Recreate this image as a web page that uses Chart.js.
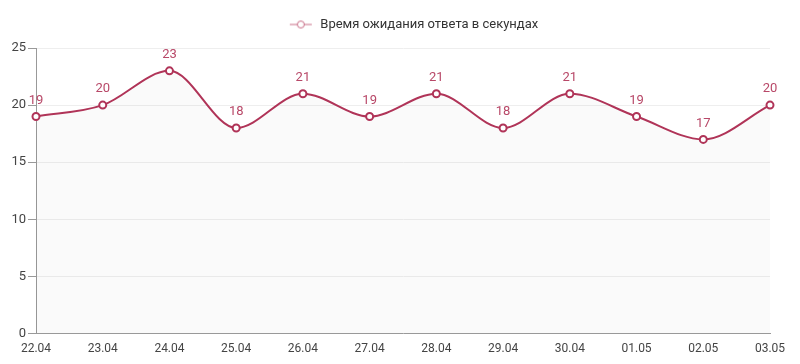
<!DOCTYPE html>
<html>
<head>
<meta charset="utf-8">
<script src="https://cdn.jsdelivr.net/npm/chart.js@4/dist/chart.umd.min.js"></script>
<style>
  html, body { margin: 0; padding: 0; background: #fff; }
  #wrap { width: 800px; height: 364px; }
</style>
</head>
<body>
<div id="wrap"><canvas id="chart"></canvas></div>
<script>
const labels = ['22.04', '23.04', '24.04', '25.04', '26.04', '27.04', '28.04', '29.04', '30.04', '01.05', '02.05', '03.05'];
const waitTimes = [19, 20, 23, 18, 21, 19, 21, 18, 21, 19, 17, 20];
const seriesName = 'Время ожидания ответа в секундах';
const yTicks = [0, 5, 10, 15, 20, 25];

const lineColor = 'rgb(176, 52, 88)';
const labelColor = 'rgb(184, 72, 104)';

// legend marker: short line with a hollow circle, sitting at the right of a wide box
const marker = document.createElement('canvas');
marker.width = 82; marker.height = 10;
(function () {
  const c = marker.getContext('2d');
  c.strokeStyle = 'rgb(200, 110, 135)';
  c.lineWidth = 1;
  c.beginPath(); c.moveTo(58, 5); c.lineTo(80, 5); c.stroke();
  c.fillStyle = '#fff';
  c.beginPath(); c.arc(69, 5, 3.5, 0, Math.PI * 2); c.fill(); c.stroke();
})();

// value labels above each point
const valueLabels = {
  id: 'valueLabels',
  afterDatasetsDraw(chart) {
    const ctx = chart.ctx;
    const meta = chart.getDatasetMeta(0);
    ctx.save();
    ctx.font = '13px Roboto';
    ctx.fillStyle = labelColor;
    ctx.textAlign = 'center';
    ctx.textBaseline = 'middle';
    meta.data.forEach((pt, i) => {
      ctx.fillText(chart.data.datasets[0].data[i], pt.x, pt.y - 16);
    });
    ctx.restore();
  }
};

// extra gap under the legend
const legendGap = {
  id: 'legendGap',
  beforeLayout(chart) {
    const lg = chart.legend;
    if (lg && !lg._gapped) {
      const fit = lg.fit;
      lg.fit = function () { fit.call(this); this.height += 7; };
      lg._gapped = true;
    }
  }
};

new Chart(document.getElementById('chart'), {
  type: 'line',
  data: {
    labels: labels,
    datasets: [{
      label: seriesName,
      data: waitTimes,
      borderColor: lineColor,
      borderWidth: 2,
      backgroundColor: 'rgba(0, 0, 0, 0.018)',
      fill: 'origin',
      cubicInterpolationMode: 'monotone',
      pointRadius: 3.5,
      pointBorderWidth: 2,
      pointBackgroundColor: '#fff',
      pointBorderColor: lineColor
    }]
  },
  options: {
    responsive: true,
    maintainAspectRatio: false,
    animation: false,
    layout: { padding: { left: 0, right: 30, top: 6, bottom: 6 } },
    plugins: {
      tooltip: { enabled: false },
      legend: {
        position: 'top',
        labels: {
          usePointStyle: true,
          pointStyleWidth: 82,
          color: '#333',
          font: { family: 'Roboto', size: 13 },
          padding: 12,
          generateLabels: (chart) => [{
            text: seriesName,
            pointStyle: marker,
            datasetIndex: 0,
            fontColor: '#333',
            lineWidth: 0
          }]
        }
      }
    },
    scales: {
      x: {
        offset: false,
        grid: { display: false, drawTicks: true, tickLength: 6, color: '#999' },
        border: { color: '#999' },
        ticks: { color: '#444', font: { family: 'Roboto', size: 12 }, maxRotation: 0, autoSkip: false, padding: 2 }
      },
      y: {
        min: 0,
        max: 25,
        afterBuildTicks: (axis) => { axis.ticks = yTicks.map(v => ({ value: v })); },
        afterFit: (axis) => { axis.width = 36; },
        grid: { color: '#eee', tickColor: '#999', tickLength: 8 },
        border: { color: '#999' },
        ticks: { color: '#444', font: { family: 'Roboto', size: 13 }, padding: 2 }
      }
    }
  },
  plugins: [valueLabels, legendGap]
});
</script>
</body>
</html>
